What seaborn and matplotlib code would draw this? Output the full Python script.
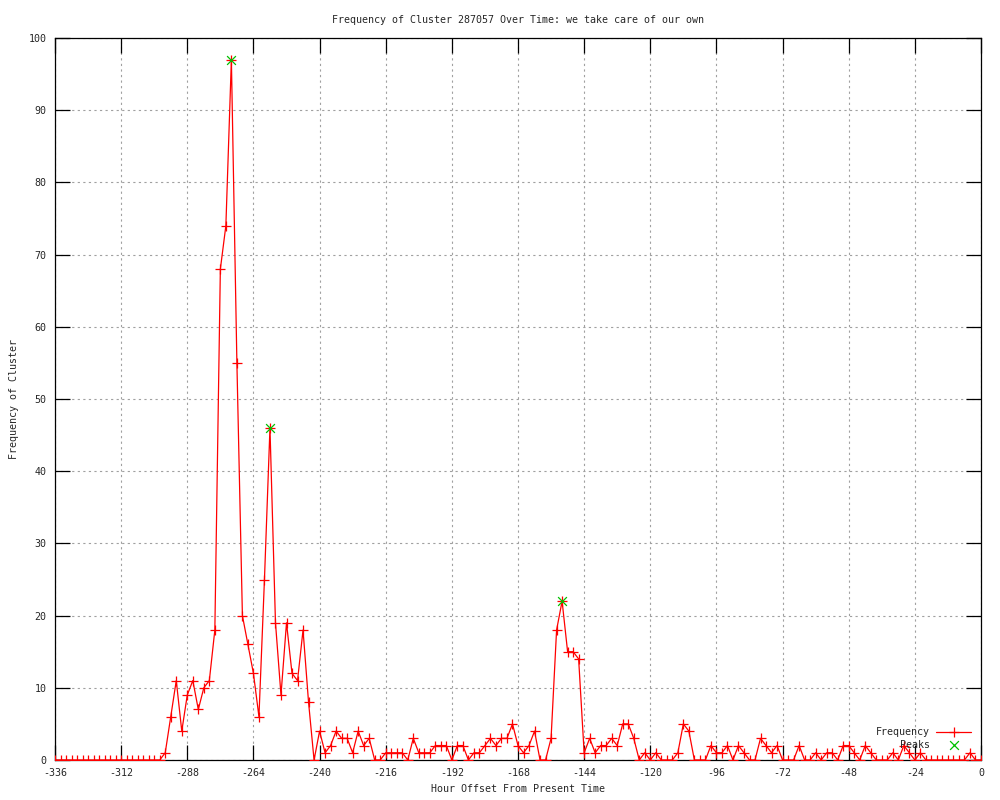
import numpy as np
import pandas as pd
import matplotlib
matplotlib.use("Agg")
import matplotlib.pyplot as plt
import seaborn as sns

# ---- data ----
hours = np.arange(-336, 1, 2)
freq = [
    0, 0, 0, 0, 0, 0, 0, 0, 0, 0, 0, 0, 0, 0, 0, 0, 0, 0, 0, 0,   # -336 .. -298
    1, 6, 11, 4, 9, 11, 7, 10, 11, 18,                              # -296 .. -278
    68, 74, 97, 55, 20, 16, 12, 6, 25, 46,                          # -276 .. -258
    19, 9, 19, 12, 11, 18, 8, 0, 4, 1,                              # -256 .. -238
    2, 4, 3, 3, 1, 4, 2, 3, 0, 0,                                   # -236 .. -218
    1, 1, 1, 1, 0, 3, 1, 1, 1, 2,                                   # -216 .. -198
    2, 2, 0, 2, 2, 0, 1, 1, 2, 3,                                   # -196 .. -178
    2, 3, 3, 5, 2, 1, 2, 4, 0, 0,                                   # -176 .. -158
    3, 18, 22, 15, 15, 14, 1, 3, 1, 2,                              # -156 .. -138
    2, 3, 2, 5, 5, 3, 0, 1, 0, 1,                                   # -136 .. -118
    0, 0, 0, 1, 5, 4, 0, 0, 0, 2,                                   # -116 .. -98
    1, 1, 2, 0, 2, 1, 0, 0, 3, 2,                                   # -96 .. -78
    1, 2, 0, 0, 0, 2, 0, 0, 1, 0,                                   # -76 .. -58
    1, 1, 0, 2, 2, 1, 0, 2, 1, 0,                                   # -56 .. -38
    0, 0, 1, 0, 2, 1, 0, 1, 0, 0,                                   # -36 .. -18
    0, 0, 0, 0, 0, 0, 1, 0, 0,                                      # -16 .. 0
]
peak_hours = [-272, -258, -152]
peak_values = [97, 46, 22]

title = "Frequency of Cluster 287057 Over Time: we take care of our own"
xlabel = "Hour Offset From Present Time"
ylabel = "Frequency of Cluster"
xticks = list(range(-336, 1, 24))
yticks = list(range(0, 101, 10))

df = pd.DataFrame({"hour": hours, "freq": freq})
peaks = pd.DataFrame({"hour": peak_hours, "freq": peak_values})

# ---- style ----
sns.set_style("white")
plt.rcParams["font.family"] = ["DejaVu Sans Mono"]
plt.rcParams["font.size"] = 7.2

fig = plt.figure(figsize=(10, 8), dpi=100)
ax = fig.add_axes([0.055, 0.05, 0.926, 0.9025])

sns.lineplot(data=df, x="hour", y="freq", ax=ax, color="red", linewidth=0.9,
             marker="+", markersize=7, markeredgewidth=0.9,
             markeredgecolor="red", label="Frequency", zorder=3)
sns.scatterplot(data=peaks, x="hour", y="freq", ax=ax, marker="x",
                color="#00c000", s=40, linewidth=0.9, label="    Peaks", zorder=4)

ax.set_xlim(-336, 0)
ax.set_ylim(0, 100)
ax.set_xticks(xticks)
ax.set_yticks(yticks)
ax.set_xticklabels([str(t) for t in xticks])
ax.set_yticklabels([str(t) for t in yticks])

ax.grid(True, color="#a0a0a0", linestyle=(0, (2, 3)), linewidth=0.8)
ax.set_axisbelow(True)
for s in ax.spines.values():
    s.set_color("black")
    s.set_linewidth(0.9)
    s.set_visible(True)

ax.tick_params(axis="both", direction="in", length=11, width=0.9, color="black",
               top=True, right=True, bottom=True, left=True, labelsize=7.2, pad=6)

ax.set_title(title, fontsize=7.2, pad=11)
ax.set_xlabel(xlabel, fontsize=7.2, labelpad=4)
ax.set_ylabel(ylabel, fontsize=7.2, labelpad=7)

leg = ax.legend(loc="lower right", frameon=False, markerfirst=False,
                fontsize=7.2, handlelength=3.5, borderaxespad=0.6,
                labelspacing=0.3, handletextpad=0.6)

fig.savefig("out.png", dpi=100)
